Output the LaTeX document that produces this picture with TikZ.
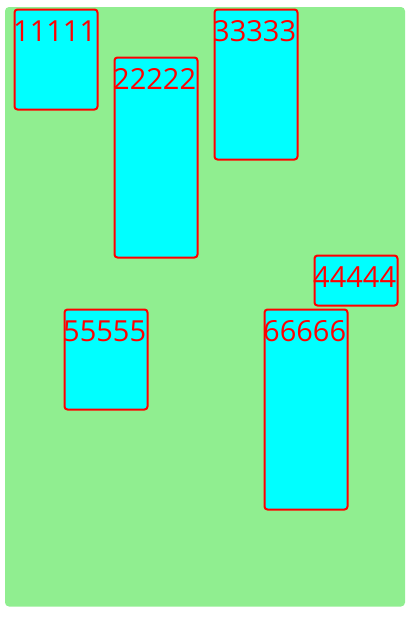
\documentclass[tikz,border=0pt]{standalone}
\usepackage{fontspec}
\setmainfont{Open Sans}
\usetikzlibrary{positioning, calc}
\definecolor{bggreen}{HTML}{90EE90}
\definecolor{boxcyan}{HTML}{00FFFF}
\definecolor{boxred}{HTML}{FF0000}

\begin{document}
\begin{tikzpicture}[x=1pt, y=-1pt,
  cell/.style={draw=boxred, fill=boxcyan, line width=2pt, rounded corners=3pt,
               minimum width=83pt, inner sep=0pt, anchor=north west},
  celltext/.style={text=boxred, font=\fontsize{29}{29}\selectfont,
                   inner sep=0pt, anchor=base west}]

% Page frame
\useasboundingbox (0,0) rectangle (415,624);

% Background
\fill[bggreen, rounded corners=4pt] (5,7) rectangle (405,606.5);

% Boxes with labels
\foreach \i/\x/\y/\h in {1/13.5/8.5/100, 2/113.5/56.5/200, 3/213.5/8.5/150,
                         4/313.5/254.5/50, 5/63.5/308.5/100, 6/263.5/308.5/200} {
  \node[cell, minimum height=\h pt] (box\i) at (\x,\y) {};
  \node[celltext] (lbl\i) at ($(box\i.north west)+(-0.5,33)$) {\i\i\i\i\i};
}

\end{tikzpicture}
\end{document}
